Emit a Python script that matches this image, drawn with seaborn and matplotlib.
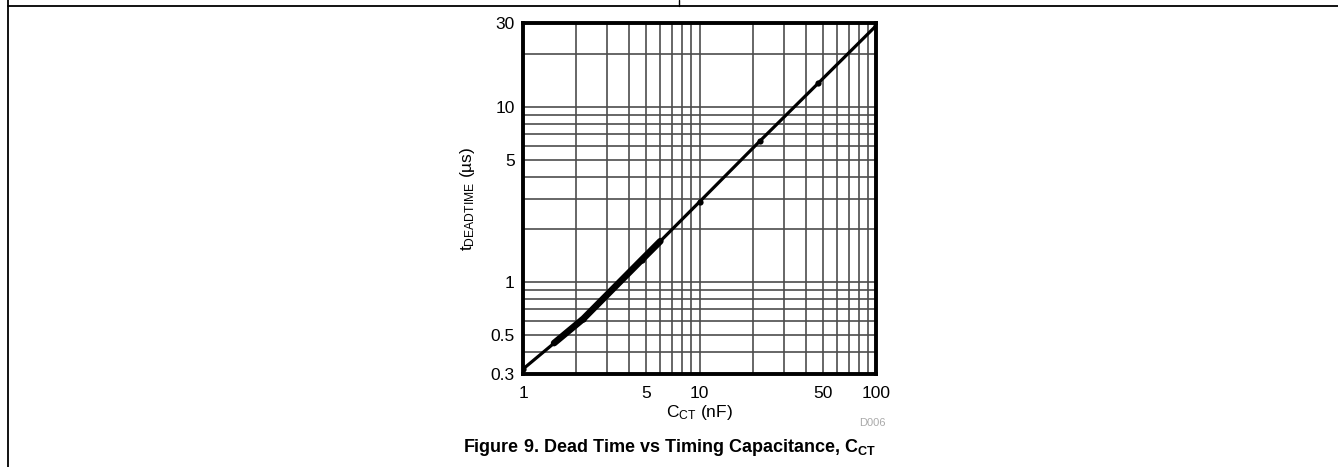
import matplotlib
matplotlib.use("Agg")
import matplotlib.pyplot as plt
import seaborn as sns
import pandas as pd
from matplotlib.lines import Line2D
from matplotlib.ticker import FixedLocator, NullFormatter, FixedFormatter

# Data
cap_nf = [1, 2.2, 4.7, 10, 22, 47, 100]
deadtime_us = [0.32, 0.62, 1.34, 2.87, 6.38, 13.6, 28.9]
# overlapping traces in the lower range (appear as thicker line)
cap_dense = [1.5, 2.2, 3.3, 4.7, 6.0]
dead_dense = [0.45, 0.62, 0.936, 1.34, 1.714]

x_major = [1, 5, 10, 50, 100]
y_major = [0.3, 0.5, 1, 5, 10, 30]
y_labels = ['0.3', '0.5', '1', '5', '10', '30']
x_grid = [1, 2, 3, 4, 5, 6, 7, 8, 9, 10, 20, 30, 40, 50, 60, 70, 80, 90, 100]
y_grid = [0.3, 0.4, 0.5, 0.6, 0.7, 0.8, 0.9, 1, 2, 3, 4, 5, 6, 7, 8, 9, 10, 20, 30]

sns.set_theme(style="white")
plt.rcParams['font.family'] = ['Liberation Sans', 'DejaVu Sans']
plt.rcParams['mathtext.fontset'] = 'custom'
plt.rcParams['mathtext.rm'] = 'Liberation Sans'
plt.rcParams['mathtext.bf'] = 'Liberation Sans:bold'
plt.rcParams['mathtext.default'] = 'regular'

fig = plt.figure(figsize=(13.38, 4.67), dpi=100)
ax = fig.add_axes([523 / 1338, 1 - 374 / 467, 353 / 1338, 351 / 467])
ax.set_xscale('log')
ax.set_yscale('log')
ax.set_xlim(1, 100)
ax.set_ylim(0.3, 30)

for xv in x_grid:
    ax.axvline(xv, color='#4d4d4d', lw=1.2, zorder=1)
for yv in y_grid:
    ax.axhline(yv, color='#4d4d4d', lw=1.2, zorder=1)

df = pd.DataFrame({'C': cap_nf, 't': deadtime_us})
dfd = pd.DataFrame({'C': cap_dense, 't': dead_dense})
sns.lineplot(data=df, x='C', y='t', ax=ax, color='black', lw=2.3, marker='o',
             markersize=4.5, markeredgewidth=0, zorder=3)
sns.lineplot(data=dfd, x='C', y='t', ax=ax, color='black', lw=4.8, zorder=3,
             solid_capstyle='round')

ax.xaxis.set_major_locator(FixedLocator(x_major))
ax.xaxis.set_major_formatter(FixedFormatter([str(v) for v in x_major]))
ax.xaxis.set_minor_formatter(NullFormatter())
ax.yaxis.set_major_locator(FixedLocator(y_major))
ax.yaxis.set_major_formatter(FixedFormatter(y_labels))
ax.yaxis.set_minor_formatter(NullFormatter())
ax.tick_params(axis='both', which='both', length=0, labelsize=12.5, colors='black')
ax.tick_params(axis='x', pad=9)
ax.tick_params(axis='y', pad=6)

for s in ax.spines.values():
    s.set_color('black')
    s.set_linewidth(2.8)
    s.set_zorder(4)

ax.set_xlabel('$C_{CT}$ (nF)', fontsize=12.5, color='black', labelpad=1)
ax.set_ylabel('$t_{DEADTIME}$ (µs)', fontsize=12.5, color='black', labelpad=10)

fig.text(886 / 1338, 1 - 423 / 467, 'D006', fontsize=8, color='#aaaaaa', ha='right', va='center')
fig.text(669 / 1338, 1 - 448 / 467, 'Figure 9. Dead Time vs Timing Capacitance, $\\mathbf{C_{CT}}$',
         fontsize=13, fontweight='bold', ha='center', va='center', color='black')

# page frame lines
fig.add_artist(Line2D([8 / 1338, 1], [1 - 6 / 467, 1 - 6 / 467], color='black', lw=1.3))
fig.add_artist(Line2D([8 / 1338, 8 / 1338], [0, 1], color='black', lw=1.3))
fig.add_artist(Line2D([679 / 1338, 679 / 1338], [1 - 6 / 467, 1], color='black', lw=1.0))

fig.savefig('out.png', dpi=100, facecolor='white')
